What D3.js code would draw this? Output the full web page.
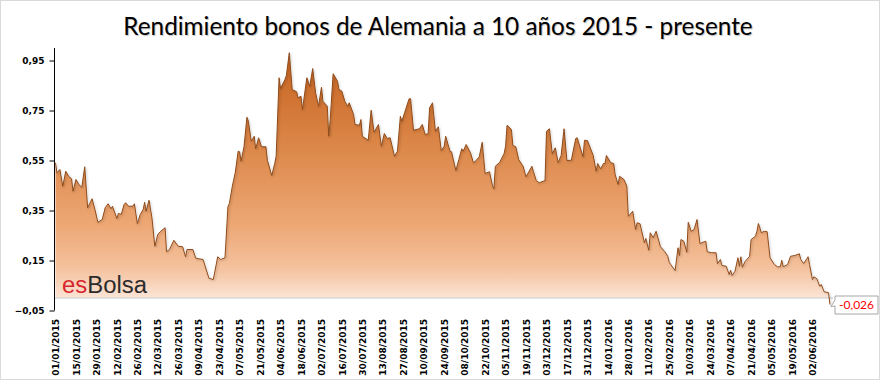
<!DOCTYPE html>
<html>
<head>
<meta charset="utf-8">
<script src="https://cdn.jsdelivr.net/npm/d3@7"></script>
<style>
  html, body { margin: 0; padding: 0; background: #fff; }
  svg { display: block; }
</style>
</head>
<body>
<svg id="chart" width="880" height="380"></svg>
<script>
// ---------------- DATA ----------------
const chartTitle = "Rendimiento bonos de Alemania a 10 años 2015 - presente";

const dates = [
"2015-01-01","2015-01-02","2015-01-04","2015-01-06","2015-01-08","2015-01-10","2015-01-12","2015-01-13","2015-01-15","2015-01-17","2015-01-19","2015-01-21","2015-01-23","2015-01-26","2015-01-28","2015-01-30",
"2015-02-02","2015-02-04","2015-02-06","2015-02-08","2015-02-09","2015-02-12","2015-02-13","2015-02-15","2015-02-17","2015-02-18","2015-02-20","2015-02-23","2015-02-24","2015-02-26","2015-02-28",
"2015-03-02","2015-03-03","2015-03-04","2015-03-06","2015-03-08","2015-03-10","2015-03-12","2015-03-14","2015-03-17","2015-03-18","2015-03-20","2015-03-23","2015-03-26","2015-03-29","2015-03-31",
"2015-04-01","2015-04-05","2015-04-07","2015-04-12","2015-04-16","2015-04-19","2015-04-22","2015-04-24","2015-04-27","2015-04-29","2015-04-30",
"2015-05-02","2015-05-04","2015-05-06","2015-05-07","2015-05-08","2015-05-10","2015-05-12","2015-05-13","2015-05-15","2015-05-17","2015-05-18","2015-05-20","2015-05-22","2015-05-25","2015-05-26","2015-05-29","2015-05-31",
"2015-06-01","2015-06-03","2015-06-04","2015-06-07","2015-06-08","2015-06-10","2015-06-12","2015-06-15","2015-06-16","2015-06-18","2015-06-19","2015-06-22","2015-06-24","2015-06-26","2015-06-28","2015-06-30",
"2015-07-02","2015-07-03","2015-07-06","2015-07-07","2015-07-08","2015-07-10","2015-07-13","2015-07-14","2015-07-16","2015-07-18","2015-07-20","2015-07-21","2015-07-24","2015-07-25","2015-07-28","2015-07-29","2015-07-30",
"2015-08-03","2015-08-05","2015-08-07","2015-08-10","2015-08-12","2015-08-14","2015-08-16","2015-08-18","2015-08-21","2015-08-23","2015-08-25","2015-08-26","2015-08-28","2015-08-31",
"2015-09-01","2015-09-03","2015-09-07","2015-09-09","2015-09-11","2015-09-13","2015-09-14","2015-09-16","2015-09-18","2015-09-20","2015-09-22","2015-09-24","2015-09-25","2015-09-28","2015-09-29",
"2015-10-02","2015-10-04","2015-10-06","2015-10-07","2015-10-09","2015-10-12","2015-10-14","2015-10-16","2015-10-18","2015-10-20","2015-10-22","2015-10-25","2015-10-27","2015-10-28","2015-10-29",
"2015-11-01","2015-11-04","2015-11-05","2015-11-06","2015-11-09","2015-11-10","2015-11-12","2015-11-14","2015-11-17","2015-11-19","2015-11-23","2015-11-24","2015-11-26","2015-11-28",
"2015-12-02","2015-12-03","2015-12-05","2015-12-07","2015-12-09","2015-12-11","2015-12-13","2015-12-15","2015-12-17","2015-12-20","2015-12-21","2015-12-23","2015-12-24","2015-12-28","2015-12-29","2015-12-31",
"2016-01-04","2016-01-06","2016-01-07","2016-01-09","2016-01-11","2016-01-12","2016-01-13","2016-01-16","2016-01-18","2016-01-19","2016-01-21","2016-01-22","2016-01-25","2016-01-27","2016-01-28","2016-01-31",
"2016-02-02","2016-02-03","2016-02-05","2016-02-08","2016-02-09","2016-02-11","2016-02-12","2016-02-14","2016-02-16","2016-02-19","2016-02-22","2016-02-24","2016-02-25","2016-02-26","2016-02-29",
"2016-03-02","2016-03-03","2016-03-04","2016-03-06","2016-03-08","2016-03-09","2016-03-11","2016-03-13","2016-03-15","2016-03-17","2016-03-19","2016-03-21","2016-03-22","2016-03-25","2016-03-28","2016-03-29","2016-03-31",
"2016-04-01","2016-04-04","2016-04-06","2016-04-07","2016-04-08","2016-04-10","2016-04-12","2016-04-13","2016-04-14","2016-04-15","2016-04-17","2016-04-20","2016-04-21","2016-04-24","2016-04-25","2016-04-26","2016-04-27","2016-04-28","2016-04-30",
"2016-05-02","2016-05-04","2016-05-07","2016-05-09","2016-05-11","2016-05-12","2016-05-13","2016-05-16","2016-05-18","2016-05-21","2016-05-24","2016-05-25","2016-05-27","2016-05-30","2016-05-31",
"2016-06-02","2016-06-03","2016-06-05","2016-06-07","2016-06-08","2016-06-10","2016-06-13","2016-06-14"
];

const yields = [
0.541,0.501,0.514,0.447,0.507,0.487,0.477,0.427,0.474,0.454,0.443,0.525,0.361,0.397,0.354,0.303,
0.314,0.361,0.377,0.357,0.367,0.318,0.338,0.335,0.375,0.381,0.367,0.367,0.377,0.298,0.334,
0.354,0.383,0.347,0.391,0.321,0.207,0.254,0.267,0.281,0.185,0.194,0.231,0.207,0.205,0.165,
0.194,0.194,0.159,0.154,0.079,0.074,0.165,0.154,0.161,0.365,0.378,
0.447,0.501,0.587,0.585,0.547,0.605,0.723,0.707,0.627,0.647,0.597,0.641,0.605,0.605,0.551,0.490,0.538,
0.567,0.881,0.838,0.874,0.890,0.981,0.834,0.825,0.801,0.807,0.754,0.881,0.847,0.918,0.821,0.767,
0.843,0.787,0.767,0.647,0.714,0.897,0.867,0.834,0.827,0.787,0.767,0.781,0.734,0.694,0.691,0.714,0.647,
0.631,0.751,0.663,0.694,0.607,0.658,0.638,0.641,0.567,0.587,0.727,0.707,0.743,0.797,
0.797,0.671,0.677,0.694,0.654,0.657,0.761,0.781,0.667,0.685,0.590,0.607,0.647,0.587,0.585,
0.510,0.554,0.597,0.587,0.614,0.581,0.541,0.551,0.565,0.623,0.498,0.505,0.451,0.437,0.527,
0.543,0.578,0.607,0.691,0.674,0.610,0.605,0.554,0.527,0.485,0.527,0.507,0.470,0.461,
0.470,0.667,0.677,0.577,0.601,0.541,0.570,0.677,0.550,0.551,0.581,0.638,0.641,0.565,0.631,0.630,
0.570,0.507,0.538,0.517,0.538,0.538,0.570,0.541,0.538,0.494,0.454,0.487,0.474,0.447,0.327,0.347,
0.274,0.301,0.297,0.221,0.238,0.191,0.261,0.241,0.267,0.205,0.185,0.167,0.143,0.134,0.110,
0.201,0.170,0.234,0.227,0.183,0.303,0.267,0.274,0.314,0.218,0.223,0.227,0.185,0.181,0.181,0.137,0.154,
0.130,0.127,0.094,0.111,0.090,0.107,0.161,0.127,0.165,0.123,0.147,0.167,0.234,0.247,0.267,0.298,0.281,0.261,0.267,
0.265,0.161,0.134,0.125,0.125,0.151,0.125,0.134,0.167,0.170,0.177,0.154,0.138,0.165,0.134,
0.074,0.085,0.077,0.047,0.054,0.025,0.021,-0.026
];

const yTickValues = [-0.05, 0.15, 0.35, 0.55, 0.75, 0.95];

const xTickLabels = [
"01/01/2015","15/01/2015","29/01/2015","12/02/2015","26/02/2015","12/03/2015","26/03/2015",
"09/04/2015","23/04/2015","07/05/2015","21/05/2015","04/06/2015","18/06/2015","02/07/2015",
"16/07/2015","30/07/2015","13/08/2015","27/08/2015","10/09/2015","24/09/2015","08/10/2015",
"22/10/2015","05/11/2015","19/11/2015","03/12/2015","17/12/2015","31/12/2015","14/01/2016",
"28/01/2016","11/02/2016","25/02/2016","10/03/2016","24/03/2016","07/04/2016","21/04/2016",
"05/05/2016","19/05/2016","02/06/2016"
];

const lastLabel = "-0,026";
const logoParts = ["es", "Bolsa"];

// ---------------- CHART ----------------
const W = 880, H = 380;
const svg = d3.select("#chart");

const parseISO = d3.utcParse("%Y-%m-%d");
const parseLbl = d3.utcParse("%d/%m/%Y");
const data = dates.map((d, i) => ({ date: parseISO(d), value: yields[i] }));

const x = d3.scaleUtc()
  .domain([parseISO("2015-01-01"), parseISO("2016-06-14")])
  .range([55.5, 830]);

const y = d3.scaleLinear()
  .domain([-0.05, 1.0])
  .range([310.5, 48]);

const esLocale = d3.formatLocale({ decimal: ",", thousands: ".", grouping: [3], currency: ["", " €"] });
const fmt = esLocale.format(".2f");

// Chart border
svg.append("rect")
  .attr("x", 0.5).attr("y", 0.5)
  .attr("width", W - 1).attr("height", H - 1)
  .attr("fill", "#fff")
  .attr("stroke", "#d9d9d9");

// Gradient
const defs = svg.append("defs");
const grad = defs.append("linearGradient")
  .attr("id", "areaGrad")
  .attr("gradientUnits", "userSpaceOnUse")
  .attr("x1", 0).attr("x2", 0)
  .attr("y1", y(0.98)).attr("y2", y(0));
[[0, "#c5611f"], [0.35, "#da8445"], [0.7, "#eda774"], [0.88, "#f4c29e"], [1, "#fbe4d5"]]
  .forEach(([o, c]) => grad.append("stop").attr("offset", o).attr("stop-color", c));

const shadow = defs.append("filter").attr("id", "lineShadow").attr("x", "-5%").attr("y", "-5%").attr("width", "110%").attr("height", "110%");
shadow.append("feDropShadow").attr("dx", 1).attr("dy", 1).attr("stdDeviation", 0.8).attr("flood-color", "#000").attr("flood-opacity", 0.25);

// Area
const area = d3.area()
  .x(d => x(d.date))
  .y0(y(0))
  .y1(d => y(d.value));
svg.append("path")
  .datum(data)
  .attr("d", area)
  .attr("fill", "url(#areaGrad)");

// Category axis line (at zero)
svg.append("line")
  .attr("x1", 54).attr("x2", 833)
  .attr("y1", y(0)).attr("y2", y(0))
  .attr("stroke", "#d9d9d9").attr("stroke-width", 1.5);

// Line
const line = d3.line()
  .x(d => x(d.date))
  .y(d => y(d.value));
svg.append("path")
  .datum(data)
  .attr("d", line)
  .attr("fill", "none")
  .attr("stroke", "#8e4a1a")
  .attr("stroke-width", 1)
  .attr("stroke-linejoin", "round")
  .attr("filter", "url(#lineShadow)");

// Y axis
const yAxis = d3.axisLeft(y)
  .tickValues(yTickValues)
  .tickFormat(fmt)
  .tickSize(5)
  .tickPadding(5)
  .tickSizeOuter(0);
const gy = svg.append("g")
  .attr("transform", "translate(54.5,0)")
  .call(yAxis);
gy.select(".domain").attr("stroke", "#000").attr("d", `M0,${y(1.0)}V${y(-0.05)}`);
gy.selectAll(".tick line").attr("stroke", "#000");
gy.selectAll(".tick text")
  .attr("font-family", "'DejaVu Sans', Verdana, sans-serif")
  .attr("font-weight", "bold")
  .attr("font-size", 9)
  .attr("fill", "#000");

// X axis labels (rotated)
const xAxis = d3.axisBottom(x)
  .tickValues(xTickLabels.map(parseLbl))
  .tickFormat((d, i) => xTickLabels[i])
  .tickSize(0)
  .tickPadding(0);
const gx = svg.append("g")
  .attr("transform", "translate(0,319)")
  .call(xAxis);
gx.select(".domain").remove();
gx.selectAll(".tick text")
  .attr("font-family", "'DejaVu Sans', Verdana, sans-serif")
  .attr("font-weight", "bold")
  .attr("font-size", 9)
  .attr("fill", "#000")
  .attr("text-anchor", "end")
  .attr("transform", "rotate(-90)")
  .attr("x", 0)
  .attr("y", 0)
  .attr("dy", "0.35em");

// Title
const title = svg.append("text")
  .attr("x", 438)
  .attr("y", 35)
  .attr("text-anchor", "middle")
  .attr("font-family", "Lato, 'Open Sans', sans-serif")
  .attr("font-size", 24)
  .attr("fill", "#000")
  .style("text-shadow", "1px 1px 1px rgba(0,0,0,0.25)")
  .text(chartTitle);
const tl = title.node().getComputedTextLength();
title.attr("font-size", 24 * 630 / tl);

// Logo
const logo = svg.append("text")
  .attr("x", 62)
  .attr("y", 293)
  .attr("font-family", "'Liberation Sans', Arial, sans-serif")
  .attr("font-size", 22);
logo.append("tspan").attr("fill", "#d7262d").text(logoParts[0]);
logo.append("tspan").attr("fill", "#2b2b2b").text(logoParts[1]);
const ll = logo.node().getComputedTextLength();
logo.attr("font-size", 22 * 85 / ll);

// Last value callout
const last = data[data.length - 1];
const px = x(last.date), py = y(last.value);
const bx = 835, by = 296, bw = 43, bh = 18;
svg.append("path")
  .attr("d", `M${bx},${by}H${bx + bw}V${by + bh}H${bx}V${by + 10}L${px + 1},${py + 2}L${bx},${by + 4}Z`)
  .attr("fill", "#fff")
  .attr("stroke", "#a6a6a6")
  .attr("stroke-width", 1);
svg.append("text")
  .attr("x", bx + bw / 2)
  .attr("y", by + 13)
  .attr("text-anchor", "middle")
  .attr("font-family", "Lato, 'Open Sans', sans-serif")
  .attr("font-size", 12)
  .attr("fill", "#ff0000")
  .text(lastLabel);
</script>
</body>
</html>
